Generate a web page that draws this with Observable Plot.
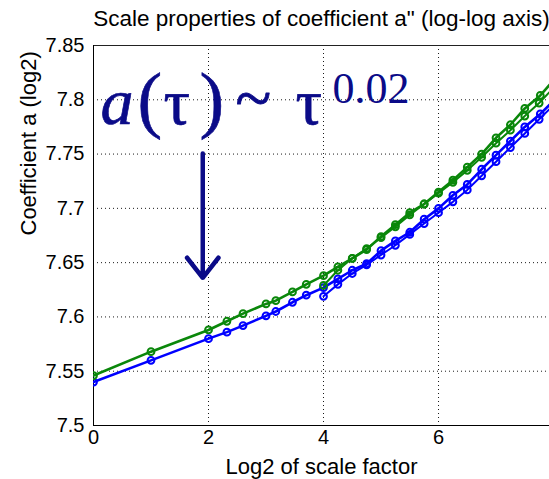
<!DOCTYPE html>
<html>
<head>
<meta charset="utf-8">
<script src="https://cdn.jsdelivr.net/npm/d3@7"></script>
<script src="https://cdn.jsdelivr.net/npm/@observablehq/plot@0.6"></script>
<style>
  body { margin: 0; background: #fff; }
  #chart svg { display: block; }
</style>
</head>
<body>
<div id="chart"></div>
<script>
// Log2 of the scale factor for the full run and for the coarse run (starts at 4)
const log2ScaleFull = [0, 1, 2, 2.32, 2.6, 3, 3.17, 3.46, 3.7, 4, 4.25, 4.5, 4.75, 5, 5.25, 5.5, 5.75, 6, 6.25, 6.5, 6.75, 7, 7.25, 7.5, 7.77, 8];
const log2ScaleCoarse = [4, 4.25, 4.5, 4.75, 5, 5.25, 5.5, 5.75, 6, 6.25, 6.5, 6.75, 7, 7.25, 7.5, 7.75, 8];

// Coefficient a (log2), green and blue channels
const greenFull = [7.546, 7.568, 7.588, 7.596, 7.603, 7.612, 7.615, 7.623, 7.630, 7.638, 7.646, 7.654, 7.662, 7.674, 7.685, 7.696, 7.704, 7.715, 7.726, 7.738, 7.750, 7.765, 7.777, 7.792, 7.804, 7.818];
const greenCoarse = [7.629, 7.643, 7.654, 7.663, 7.673, 7.683, 7.694, 7.704, 7.714, 7.724, 7.735, 7.747, 7.760, 7.772, 7.785, 7.797, 7.811];
const blueFull = [7.540, 7.560, 7.580, 7.586, 7.592, 7.601, 7.605, 7.6135, 7.620, 7.627, 7.635, 7.643, 7.649, 7.661, 7.670, 7.678, 7.690, 7.700, 7.712, 7.722, 7.736, 7.749, 7.762, 7.775, 7.787, 7.799];
const blueCoarse = [7.619, 7.630, 7.640, 7.648, 7.657, 7.666, 7.676, 7.686, 7.696, 7.706, 7.717, 7.730, 7.743, 7.756, 7.769, 7.782, 7.795];

// Axis ticks
const xTicks = [0, 2, 4, 6];
const yTicks = [7.5, 7.55, 7.6, 7.65, 7.7, 7.75, 7.8, 7.85];

// Texts
const titleText = "Scale properties of coefficient a\" (log-log axis)";
const xLabel = "Log2 of scale factor";
const yLabel = "Coefficient a (log2)";
const lawPieces = ["a", "(", "τ", ")", "~", "τ", "0.02"];
// Where the power-law note sits and where its arrow points
const lawAnchor = {x: 0.12, y: 7.7974};
const arrowFrom = {x: 1.9, y: 7.7505};
const arrowTo = {x: 1.9, y: 7.636};

const toPoints = (xs, ys) => xs.map((x, i) => ({x, y: ys[i]}));

const GREEN = "#0a870a";
const BLUE = "#0000ff";
const NAVY = "#0b0b88";
const SANS = "Liberation Sans, Arial, Helvetica, sans-serif";
const SERIF = "Liberation Serif, DejaVu Serif, serif";

const series = [
  {pts: toPoints(log2ScaleFull, blueFull), color: BLUE, w: 2.6},
  {pts: toPoints(log2ScaleCoarse, blueCoarse), color: BLUE, w: 2},
  {pts: toPoints(log2ScaleFull, greenFull), color: GREEN, w: 2.6},
  {pts: toPoints(log2ScaleCoarse, greenCoarse), color: GREEN, w: 2}
];

const seriesMarks = series.flatMap(s => [
  Plot.line(s.pts, {x: "x", y: "y", stroke: s.color, strokeWidth: s.w, clip: true}),
  Plot.dot(s.pts.filter(d => d.x < 7.9), {x: "x", y: "y", r: 3.4, stroke: s.color, strokeWidth: 2, fill: "none", clip: true})
]);

// Layout of the note: horizontal offset, vertical offset, size, style, weight per piece
const lawLayout = [
  {dx: 0, dy: 0, size: 66, italic: true, sw: 0.7},
  {dx: 37, dy: -2, size: 74, sw: 0.6},
  {dx: 63, dy: 0, size: 66, sw: 0.7},
  {dx: 99, dy: -2, size: 74, sw: 0.6},
  {dx: 135, dy: -4, size: 66, sw: 0.8},
  {dx: 195, dy: 0, size: 66, sw: 0.7},
  {dx: 232, dy: -14, size: 44, sw: 0}
];
const lawMarks = lawPieces.map((t, i) => {
  const L = lawLayout[i];
  return Plot.text([lawAnchor], {
    x: "x", y: "y", text: () => t,
    textAnchor: "start", lineAnchor: "middle",
    dx: L.dx, dy: L.dy, fontSize: L.size,
    fontStyle: L.italic ? "italic" : "normal",
    fontFamily: SERIF, fill: NAVY,
    stroke: L.sw ? NAVY : "none", strokeWidth: L.sw
  });
});

const chart = Plot.plot({
  width: 549,
  height: 479,
  marginLeft: 93,
  marginRight: 0,
  marginTop: 45,
  marginBottom: 54,
  style: {fontFamily: SANS, fontSize: "20px", color: "#000", background: "#fff"},
  x: {domain: [0, 7.93]},
  y: {domain: [7.5, 7.85]},
  marks: [
    Plot.gridX(xTicks.filter(d => d > 0), {stroke: "#000", strokeOpacity: 0.9, strokeDasharray: "1,3"}),
    Plot.gridY(yTicks.filter(d => d > 7.5 && d < 7.85), {stroke: "#000", strokeOpacity: 0.9, strokeDasharray: "1,3"}),
    Plot.ruleY([7.85], {stroke: "#222"}),
    Plot.ruleY([7.5], {stroke: "#000"}),
    Plot.ruleX([0], {stroke: "#000"}),
    Plot.axisX({ticks: xTicks, tickSize: 0, tickPadding: 4, label: null, fontSize: 20}),
    Plot.axisY({ticks: yTicks, tickSize: 0, tickPadding: 9, label: null, fontSize: 20, tickFormat: d => String(d)}),
    ...seriesMarks,
    ...lawMarks,
    Plot.arrow([{x1: arrowFrom.x, y1: arrowFrom.y, x2: arrowTo.x, y2: arrowTo.y}], {
      x1: "x1", y1: "y1", x2: "x2", y2: "y2",
      stroke: NAVY, strokeWidth: 4.5, headLength: 8.5, headAngle: 76
    }),
    Plot.text([titleText], {frameAnchor: "top", dy: -27, lineAnchor: "middle", fontSize: 22.5, fontFamily: SANS}),
    Plot.text([xLabel], {frameAnchor: "bottom", dy: 41, lineAnchor: "middle", fontSize: 22, fontFamily: SANS}),
    Plot.text([yLabel], {frameAnchor: "left", dx: -65, rotate: -90, lineAnchor: "middle", fontSize: 22, fontFamily: SANS})
  ]
});

document.getElementById("chart").appendChild(chart);
</script>
</body>
</html>
